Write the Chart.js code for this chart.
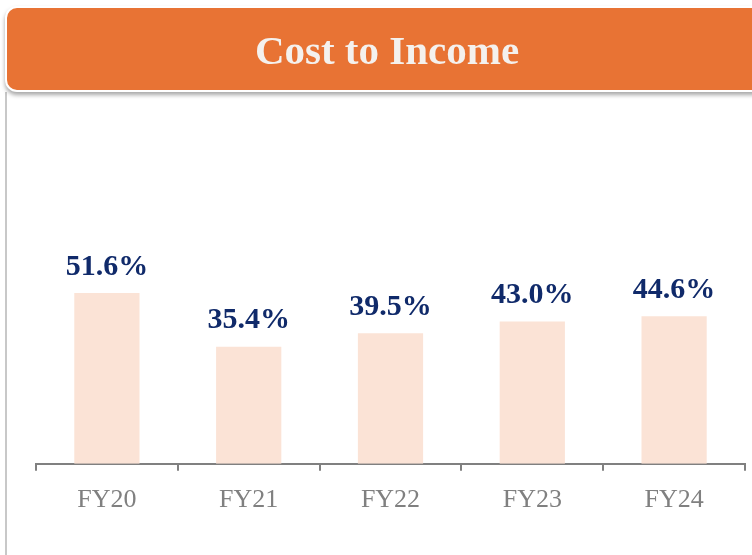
<!DOCTYPE html>
<html>
<head>
<meta charset="utf-8">
<script src="https://cdn.jsdelivr.net/npm/chart.js@4"></script>
<style>
    body{
        margin: 0;
        background: #ffffff;
    }
    #wrap{
        position: relative;
        width: 752px;
        height: 555px;
        overflow: hidden;
    }
    #header{
        position: absolute;
        left: 5px;
        top: 6px;
        width: 770px;
        height: 82px;
        background: #e87334;
        border: 2px solid #ffffff;
        border-radius: 12px;
        box-shadow: 0 3px 4px rgba(0, 0, 0, 0.35);
        color: #f4f1ee;
        font-family: 'Liberation Serif', serif;
        font-weight: bold;
        font-size: 41px;
        line-height: 84px;
        z-index: 2;
    }
    #header span{
        position: absolute;
        left: 0;
        width: 760px;
        text-align: center;
    }
    #side{
        position: absolute;
        left: 5px;
        top: 92px;
        width: 2px;
        height: 470px;
        background: #c8c8c8;
    }
    #chart{
        position: absolute;
        left: 0;
        top: 0;
    }
</style>
</head>
<body>
<div id="wrap">
    <div id="header"><span>Cost to Income</span></div>
    <div id="side"></div>
    <canvas id="chart" width="752" height="555"></canvas>
</div>
<script>
const years = ['FY20', 'FY21', 'FY22', 'FY23', 'FY24'];
const costToIncome = [51.6, 35.4, 39.5, 43.0, 44.6];

// value labels above each bar
const barLabels = {
    id: 'barLabels',
    afterDatasetsDraw(chart){
        const ctx = chart.ctx;
        const meta = chart.getDatasetMeta(0);
        ctx.save();
        ctx.font = 'bold 30px "Liberation Serif"';
        ctx.fillStyle = '#102a6a';
        ctx.textAlign = 'center';
        ctx.textBaseline = 'middle';
        meta.data.forEach((bar, i) => {
            ctx.fillText(costToIncome[i].toFixed(1) + '%', bar.x, bar.y - 26);
        });
        ctx.restore();
    }
};

new Chart('chart', {
    type: 'bar',
    data: {
        labels: years,
        datasets: [{
            data: costToIncome,
            backgroundColor: '#fbe3d6',
            borderWidth: 0,
            categoryPercentage: 1,
            barPercentage: 0.46
        }]
    },
    options: {
        responsive: false,
        animation: false,
        layout: {
            padding: {left: 36, right: 7, top: 133, bottom: 25}
        },
        plugins: {
            legend: {display: false},
            tooltip: {enabled: false}
        },
        scales: {
            x: {
                grid: {
                    offset: true,
                    drawOnChartArea: false,
                    drawTicks: true,
                    tickLength: 7,
                    color: '#808080',
                    lineWidth: 2
                },
                border: {
                    display: true,
                    color: '#808080',
                    width: 2
                },
                ticks: {
                    color: '#808080',
                    padding: 14,
                    font: {family: 'Liberation Serif', size: 26}
                }
            },
            y: {
                display: false,
                min: 0,
                max: 100
            }
        }
    },
    plugins: [barLabels]
});
</script>
</body>
</html>
